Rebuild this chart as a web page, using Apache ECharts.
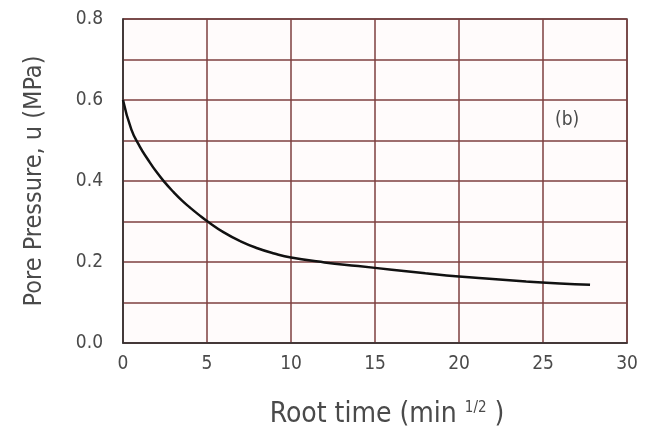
<!DOCTYPE html>
<html>
<head>
<meta charset="utf-8">
<script src="https://cdn.jsdelivr.net/npm/echarts@6/dist/echarts.min.js"></script>
<style>html,body{margin:0;padding:0;background:#fff;}#c{width:650px;height:434px;}</style>
</head>
<body>
<div id="c"></div>
<script>
var rootTime = [0, 0.5, 1, 1.5, 2, 2.5, 3, 3.5, 4, 4.5, 5, 6, 7, 8, 9, 10, 12, 14, 16, 18, 20, 22, 24, 26, 27.8];
var porePressure = [0.6, 0.527, 0.485, 0.452, 0.422, 0.396, 0.373, 0.352, 0.334, 0.317, 0.301, 0.273, 0.251, 0.234, 0.221, 0.211, 0.199, 0.19, 0.181, 0.172, 0.164, 0.158, 0.152, 0.147, 0.144];
var xTicks = [0, 5, 10, 15, 20, 25, 30];
var yTickLabels = ['0.0', '0.2', '0.4', '0.6', '0.8'];

var fontFam = '"Liberation Sans Narrow", "DejaVu Sans Condensed", "Liberation Sans", sans-serif';
var chart = echarts.init(document.getElementById('c'));
chart.setOption({
  animation: false,
  backgroundColor: '#ffffff',
  grid: { left: 123, right: 23, top: 19, bottom: 87, show: true, backgroundColor: '#fffbfb', borderColor: '#444', borderWidth: 1.5 },
  xAxis: {
    type: 'value', min: xTicks[0], max: xTicks[xTicks.length - 1], interval: 5,
    axisLine: { onZero: false, lineStyle: { color: '#333', width: 1.5 } },
    axisTick: { show: false },
    axisLabel: { color: '#4a4a4a', fontSize: 19, fontFamily: fontFam, margin: 12 },
    splitLine: { show: true, lineStyle: { color: '#7e3f3f', width: 1.5 } },
    name: '{a|Root time (min }{s|1/2}{a| )}',
    nameLocation: 'middle', nameGap: 58,
    nameTextStyle: { padding: [0, 0, 0, 24], rich: {
      a: { fontSize: 28, color: '#4a4a4a', fontFamily: fontFam },
      s: { fontSize: 15, color: '#4a4a4a', fontFamily: fontFam, verticalAlign: 'top', padding: [0, 0, 12, 0] }
    } }
  },
  yAxis: {
    type: 'value', min: 0, max: 0.8, interval: 0.1,
    axisLine: { onZero: false, lineStyle: { color: '#333', width: 1.5 } },
    axisTick: { show: false },
    axisLabel: { color: '#4a4a4a', fontSize: 19, fontFamily: fontFam, margin: 20,
      formatter: function (v) { var i = Math.round(v * 10); return i % 2 === 0 ? yTickLabels[i / 2] : ''; } },
    splitLine: { show: true, lineStyle: { color: '#7e3f3f', width: 1.5 } },
    name: 'Pore Pressure, u (MPa)',
    nameLocation: 'middle', nameGap: 76,
    nameTextStyle: { fontSize: 25, color: '#4a4a4a', fontFamily: fontFam, padding: [0, 0, 0, 0] }
  },
  graphic: [{ type: 'text', left: 555, top: 111, style: { text: '(b)', fill: '#4a4a4a', font: '19px ' + fontFam } }],
  series: [{
    type: 'line', smooth: 0.5, symbol: 'none',
    data: rootTime.map(function (t, i) { return [t, porePressure[i]]; }),
    lineStyle: { color: '#111', width: 2.5 }
  }]
});
</script>
</body>
</html>
